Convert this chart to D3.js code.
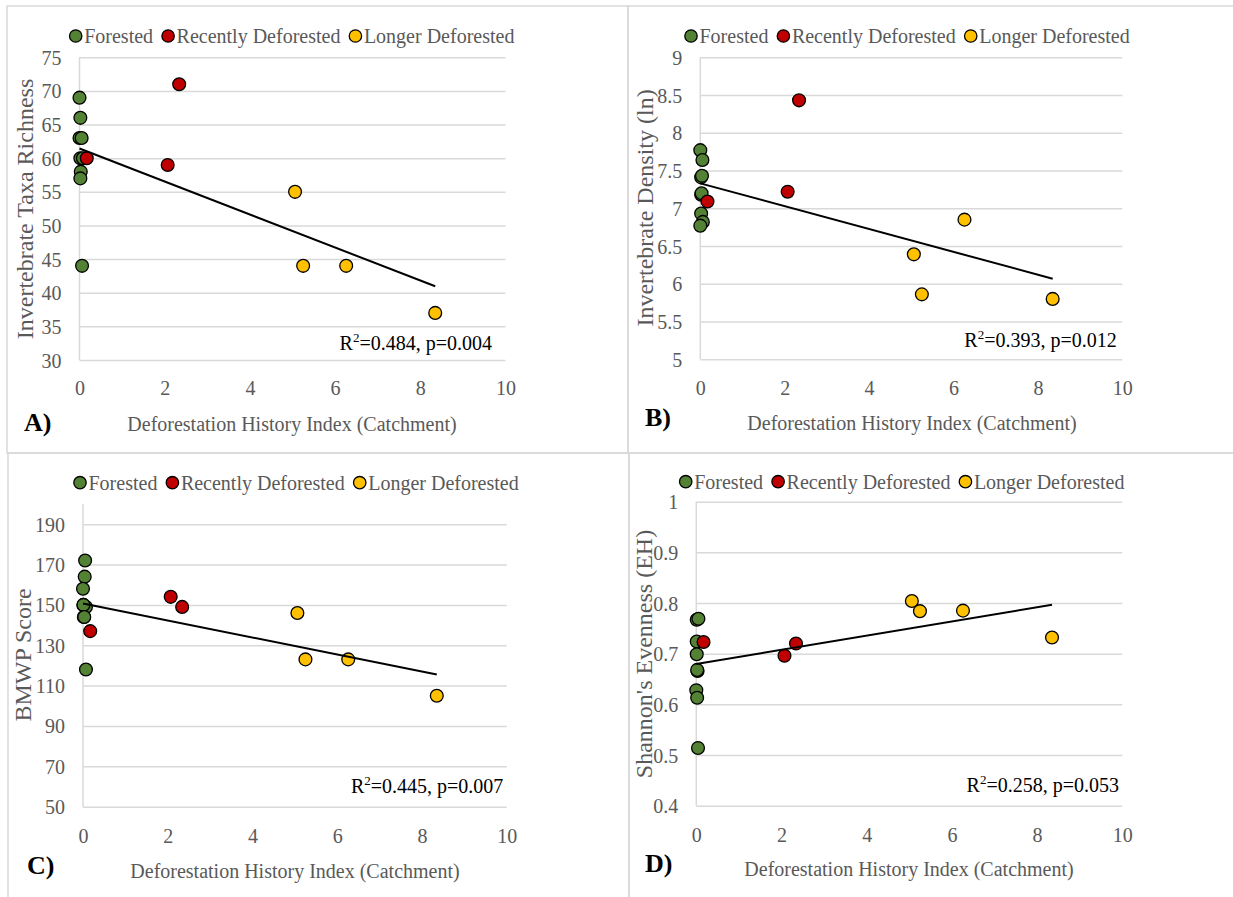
<!DOCTYPE html>
<html>
<head>
<meta charset="utf-8">
<script src="https://cdn.jsdelivr.net/npm/d3@7"></script>
<style>
  html, body { margin: 0; padding: 0; background: #ffffff; }
  svg { display: block; }
  text { font-family: "Liberation Serif", "Times New Roman", serif; }
</style>
</head>
<body>
<svg id="chart" width="1233" height="897"></svg>
<script>
// ---------------- DATA ----------------
const seriesNames = ["Forested", "Recently Deforested", "Longer Deforested"];
const xTicks = [0, 2, 4, 6, 8, 10];
const xTitle = "Deforestation History Index (Catchment)";

// Deforestation history index of deforested sites (shared by all panels)
const recentX = [0.17, 2.07, 2.34];
const longerX = [5.06, 5.25, 6.26, 8.35];

// Panel A: Invertebrate Taxa Richness
const forestedA_x = [0.00, 0.02, 0.00, 0.05, 0.02, 0.08, 0.03, 0.02, 0.06];
const forestedA_y = [69, 66, 63, 63, 60, 60, 58, 57, 44];
const recentA_y = [60, 59, 71];
const longerA_y = [55, 44, 44, 37];
const yTicksA = [30, 35, 40, 45, 50, 55, 60, 65, 70, 75];

// Panel B: Invertebrate Density (ln)
const forestedB_x = [0.00, 0.05, 0.02, 0.04, 0.02, 0.03, 0.02, 0.06, 0.00];
const forestedB_y = [7.77, 7.64, 7.41, 7.43, 7.18, 7.20, 6.93, 6.82, 6.77];
const recentB_y = [7.09, 7.22, 8.43];
const longerB_y = [6.39, 5.86, 6.85, 5.80];
const yTicksB = [5, 5.5, 6, 6.5, 7, 7.5, 8, 8.5, 9];

// Panel C: BMWP Score
const forestedC_x = [0.05, 0.04, 0.00, 0.01, 0.07, 0.01, 0.02, 0.03, 0.07];
const forestedC_y = [172, 164, 158, 150, 149, 150, 144, 144, 118];
const recentC_y = [137, 154, 149];
const longerC_y = [146, 123, 123, 105];
const yTicksC = [50, 70, 90, 110, 130, 150, 170, 190];

// Panel D: Shannon's Evenness (EH)
const forestedD_x = [0.01, 0.05, 0.01, 0.01, 0.03, 0.02, 0.00, 0.02, 0.04];
const forestedD_y = [0.767, 0.769, 0.724, 0.699, 0.666, 0.668, 0.628, 0.613, 0.514];
const recentD_y = [0.723, 0.696, 0.720];
const longerD_y = [0.804, 0.784, 0.785, 0.732];
const yTicksD = [0.4, 0.5, 0.6, 0.7, 0.8, 0.9, 1];

const panelLabels = ["A)", "B)", "C)", "D)"];
const yTitles = ["Invertebrate Taxa Richness", "Invertebrate Density (ln)", "BMWP Score", "Shannon's Evenness (EH)"];
const r2Values = ["0.484", "0.393", "0.445", "0.258"];
const pValues = ["0.004", "0.012", "0.007", "0.053"];

// ---------------- STYLE / LAYOUT ----------------
const colors = ["#548235", "#C00000", "#FFC000"];
const gridColor = "#d9d9d9";
const textGray = "#595959";

const panels = [
  { fx: forestedA_x, fy: forestedA_y, ry: recentA_y, ly: longerA_y, ticks: yTicksA, ydom: [30, 75],
    x0: 79.5, x1: 505.5, yT: 57.3, yB: 360, legX: 75.7, legY: 36,
    yTitleX: 25, yTitleY: 209, xTitleX: 292, xTitleY: 424, labX: 24, labY: 422, annX: 492, annY: 350, tickY: 388 },
  { fx: forestedB_x, fy: forestedB_y, ry: recentB_y, ly: longerB_y, ticks: yTicksB, ydom: [5, 9],
    x0: 700.3, x1: 1122.3, yT: 57.3, yB: 359.3, legX: 691, legY: 36,
    yTitleX: 645, yTitleY: 208, xTitleX: 912, xTitleY: 423, labX: 645, labY: 417, annX: 1116.7, annY: 346.7, tickY: 388 },
  { fx: forestedC_x, fy: forestedC_y, ry: recentC_y, ly: longerC_y, ticks: yTicksC, ydom: [50, 200],
    x0: 83, x1: 506.7, yT: 504, yB: 806.7, legX: 80, legY: 482.7,
    yTitleX: 23, yTitleY: 655, xTitleX: 295, xTitleY: 870.7, labX: 27, labY: 865, annX: 503.3, annY: 792.7, tickY: 836 },
  { fx: forestedD_x, fy: forestedD_y, ry: recentD_y, ly: longerD_y, ticks: yTicksD, ydom: [0.4, 1],
    x0: 696.3, x1: 1122.3, yT: 501.7, yB: 805.7, legX: 685.7, legY: 481.7,
    yTitleX: 644, yTitleY: 654, xTitleX: 909, xTitleY: 869, labX: 645, labY: 863, annX: 1119, annY: 791.7, tickY: 835 }
];

const svg = d3.select("#chart");

// Panel borders
const borders = [
  { x: 7, y: 6, w: 621, h: 447 },
  { x: 628, y: 6, w: 700, h: 447 },
  { x: 8, y: 453, w: 621, h: 500 },
  { x: 629, y: 453, w: 700, h: 500 }
];
svg.selectAll("rect.border").data(borders).join("rect")
  .attr("class", "border")
  .attr("x", d => d.x).attr("y", d => d.y).attr("width", d => d.w).attr("height", d => d.h)
  .attr("fill", "none").attr("stroke", gridColor).attr("stroke-width", 1.5);

function fmt(v) { return String(+v.toFixed(4)); }

panels.forEach((p, i) => {
  const g = svg.append("g");
  const x = d3.scaleLinear().domain([0, 10]).range([p.x0, p.x1]);
  const y = d3.scaleLinear().domain(p.ydom).range([p.yB, p.yT]);

  // gridlines
  g.append("g").attr("transform", `translate(${p.x0},0)`)
    .call(d3.axisLeft(y).tickValues(p.ticks).tickSize(-(p.x1 - p.x0)).tickFormat(""))
    .call(a => a.select(".domain").remove())
    .call(a => a.selectAll(".tick line").attr("stroke", gridColor).attr("stroke-width", 1.5));

  // vertical axis line
  g.append("line").attr("x1", p.x0).attr("x2", p.x0).attr("y1", y(p.ydom[1])).attr("y2", y(p.ydom[0]))
    .attr("stroke", gridColor).attr("stroke-width", 1.5);

  // y tick labels
  g.append("g").attr("transform", `translate(${p.x0 - 18},0)`)
    .call(d3.axisLeft(y).tickValues(p.ticks).tickSize(0).tickPadding(0).tickFormat(fmt))
    .call(a => a.select(".domain").remove())
    .call(a => a.selectAll("text").attr("font-family", "Liberation Serif, Times New Roman, serif")
      .attr("font-size", 20).attr("fill", textGray).attr("dy", "0.35em"));

  // x tick labels
  g.append("g").attr("transform", `translate(0,${p.tickY})`)
    .call(d3.axisBottom(x).tickValues(xTicks).tickSize(0).tickPadding(0).tickFormat(d3.format("d")))
    .call(a => a.select(".domain").remove())
    .call(a => a.selectAll("text").attr("font-family", "Liberation Serif, Times New Roman, serif")
      .attr("font-size", 20).attr("fill", textGray).attr("dy", "0.35em"));

  // points
  const pts = [];
  p.fx.forEach((xv, k) => pts.push({ x: xv, y: p.fy[k], s: 0 }));
  recentX.forEach((xv, k) => pts.push({ x: xv, y: p.ry[k], s: 1 }));
  longerX.forEach((xv, k) => pts.push({ x: xv, y: p.ly[k], s: 2 }));

  g.append("g").selectAll("circle").data(pts).join("circle")
    .attr("cx", d => x(d.x)).attr("cy", d => y(d.y)).attr("r", 6.4)
    .attr("fill", d => colors[d.s]).attr("stroke", "#000").attr("stroke-width", 1.3);

  // linear trendline (least squares over all points)
  const mx = d3.mean(pts, d => d.x), my = d3.mean(pts, d => d.y);
  const sxy = d3.sum(pts, d => (d.x - mx) * (d.y - my));
  const sxx = d3.sum(pts, d => (d.x - mx) * (d.x - mx));
  const slope = sxy / sxx, icpt = my - slope * mx;
  const [xmin, xmax] = d3.extent(pts, d => d.x);
  const tl = [{ x: xmin, y: icpt + slope * xmin }, { x: xmax, y: icpt + slope * xmax }];
  g.append("path").datum(tl)
    .attr("d", d3.line().x(d => x(d.x)).y(d => y(d.y)))
    .attr("fill", "none").attr("stroke", "#000").attr("stroke-width", 2);

  // legend
  const leg = g.append("g");
  let cx = p.legX;
  seriesNames.forEach((name, k) => {
    leg.append("circle").attr("cx", cx).attr("cy", p.legY).attr("r", 6.2)
      .attr("fill", colors[k]).attr("stroke", "#000").attr("stroke-width", 1.3);
    const t = leg.append("text").attr("x", cx + 8.5).attr("y", p.legY).attr("dy", "0.35em")
      .attr("font-size", 20).attr("fill", textGray).text(name);
    const w = t.node().getComputedTextLength();
    cx = cx + 8.5 + w + 15;
  });

  // axis titles
  g.append("text").attr("transform", `translate(${p.yTitleX},${p.yTitleY}) rotate(-90)`)
    .attr("text-anchor", "middle").attr("dy", "0.35em")
    .attr("font-size", 24).attr("fill", textGray).text(yTitles[i]);
  g.append("text").attr("x", p.xTitleX).attr("y", p.xTitleY).attr("dy", "0.35em")
    .attr("text-anchor", "middle").attr("font-size", 20).attr("fill", textGray).text(xTitle);

  // panel label
  g.append("text").attr("x", p.labX).attr("y", p.labY).attr("dy", "0.35em")
    .attr("font-size", 26).attr("font-weight", "bold").attr("fill", "#000").text(panelLabels[i]);

  // annotation
  const ann = g.append("text").attr("x", p.annX).attr("y", p.annY)
    .attr("text-anchor", "end").attr("font-size", 20).attr("fill", "#000");
  ann.append("tspan").text("R");
  ann.append("tspan").attr("font-size", 13).attr("dy", -8).text("2");
  ann.append("tspan").attr("dy", 8).text(`=${r2Values[i]}, p=${pValues[i]}`);
});
</script>
</body>
</html>
